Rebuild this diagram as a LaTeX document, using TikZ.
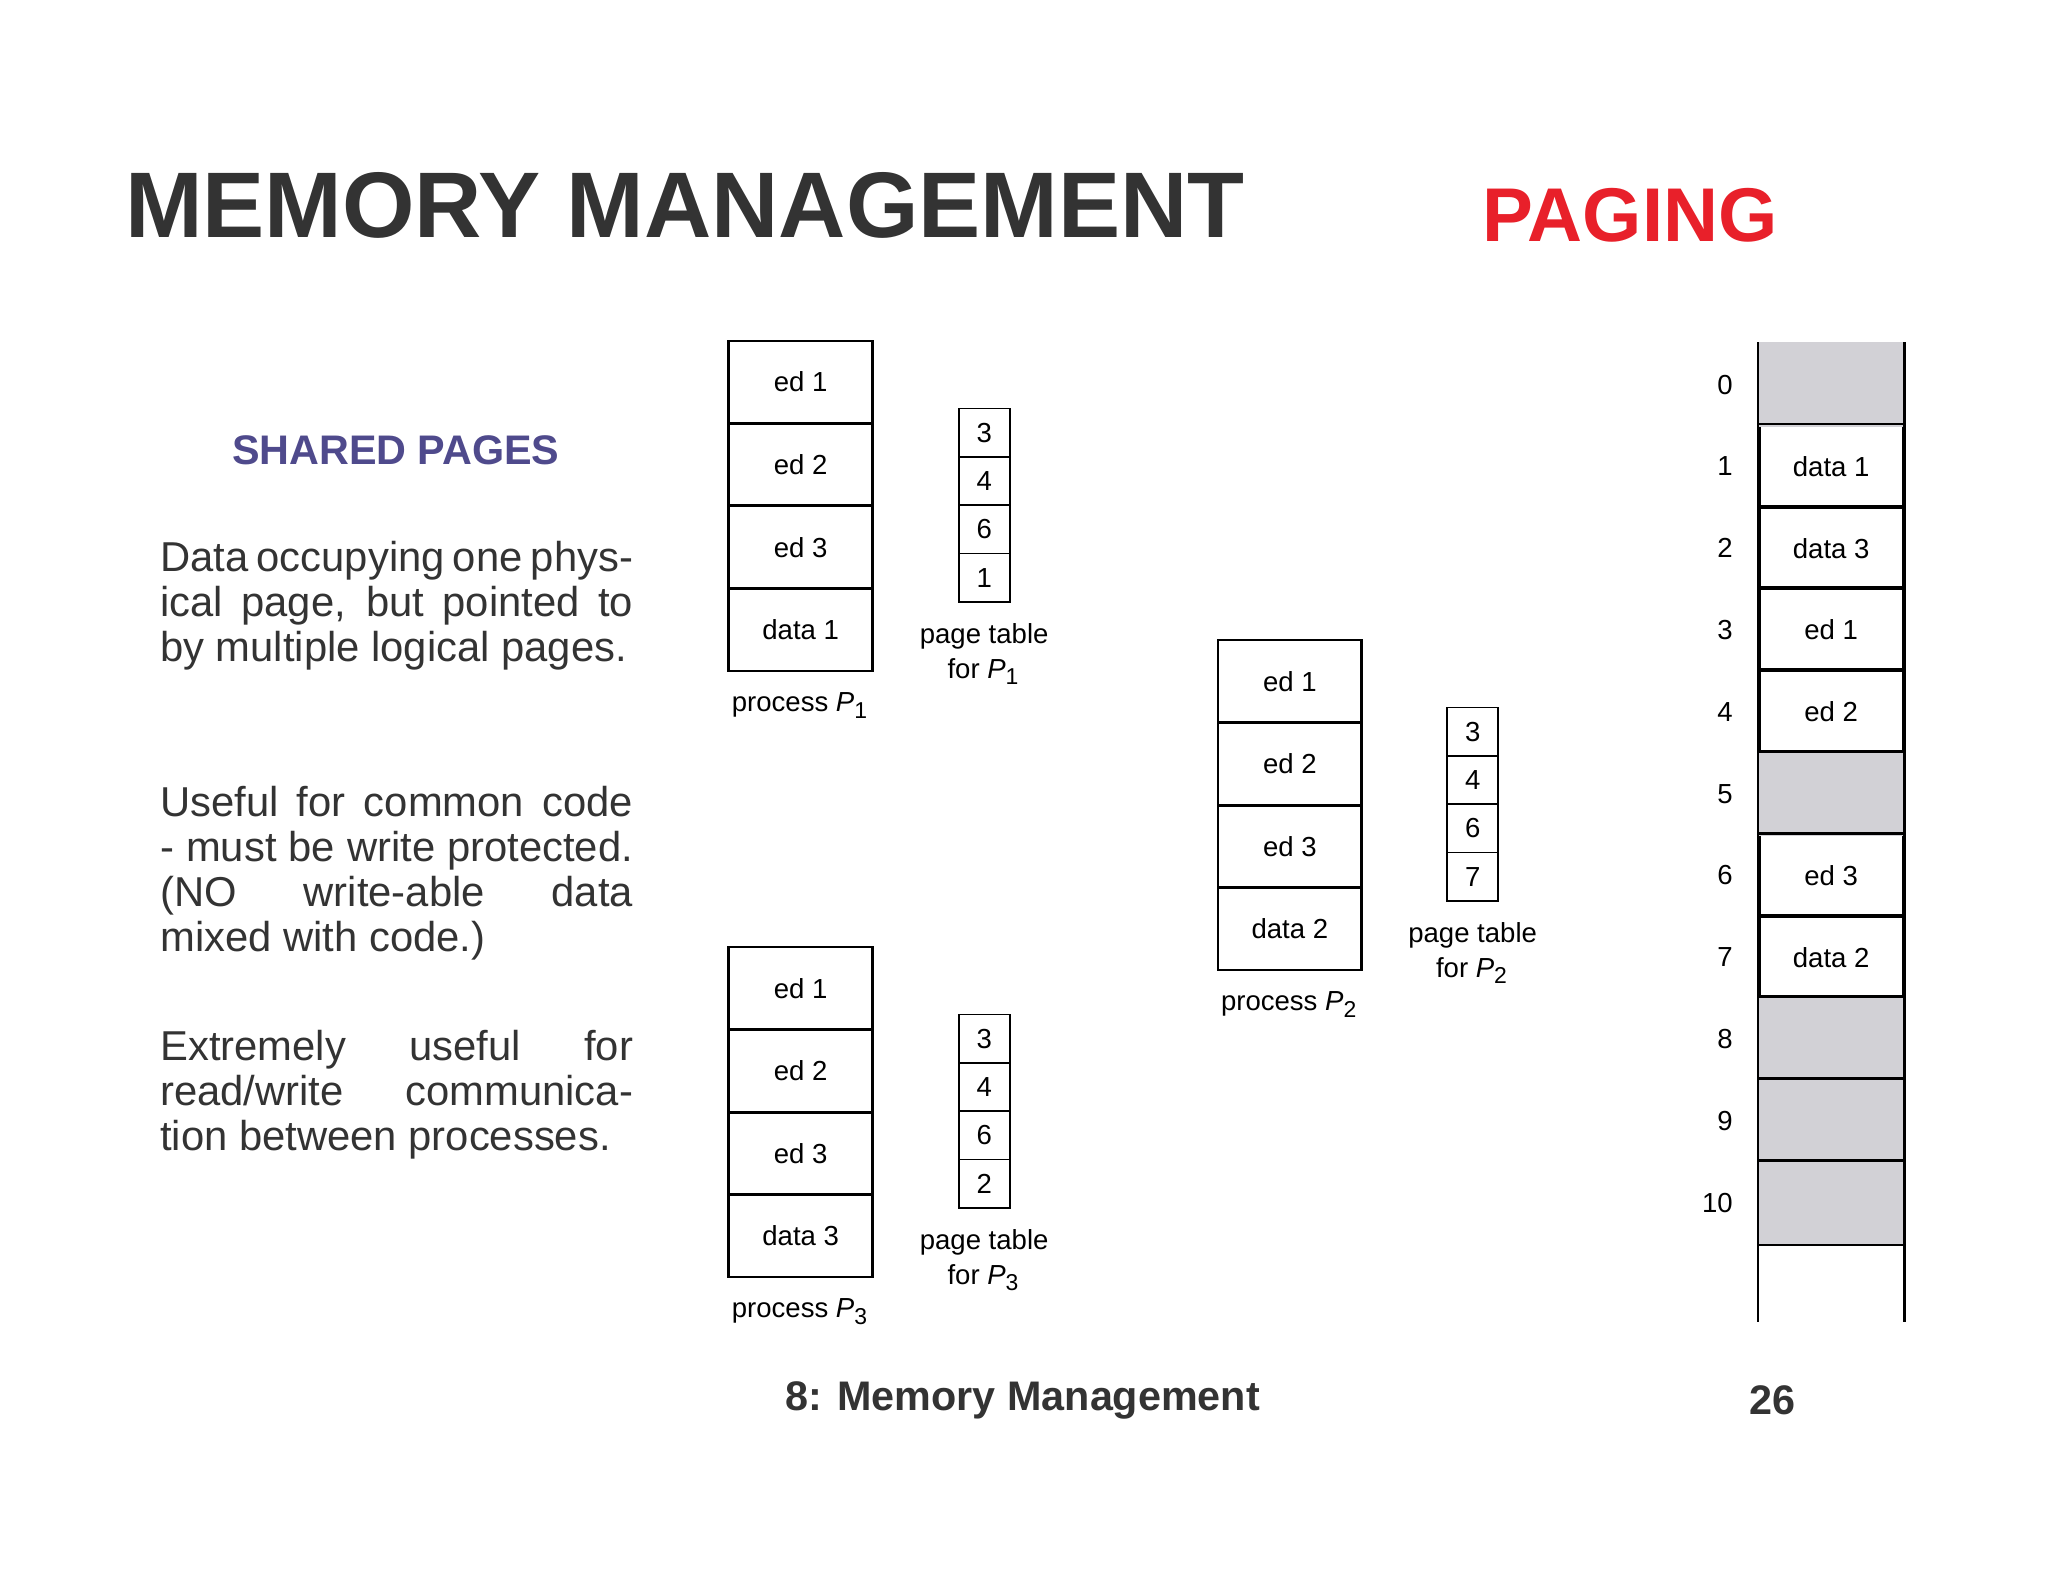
\documentclass[tikz,border=0pt]{standalone}
\usepackage{fontspec}
\setmainfont{Liberation Sans}
\usetikzlibrary{positioning, calc}
\definecolor{titlegray}{HTML}{333333}
\definecolor{sharedblue}{HTML}{4F4A8C}
\definecolor{pagered}{HTML}{E8202A}
\definecolor{framegray}{HTML}{D2D1D6}
\newcommand{\procname}[1]{\textit{P}\textsubscript{#1}}
\newcommand{\nohyph}{\hyphenpenalty=10000\exhyphenpenalty=10000\relax}
\tikzset{
    page/.style = {draw=black, semithick, minimum width=1.1cm, minimum height=0.63cm,
        inner sep=0pt, font=\fontsize{6}{7}\selectfont},
    entry/.style = {draw=black, minimum width=0.39cm, minimum height=0.37cm,
        inner sep=0pt, font=\fontsize{6}{7}\selectfont},
    caption/.style = {align=center, inner sep=0pt, font=\fontsize{6}{7.6}\selectfont},
    framenum/.style = {anchor=east, font=\fontsize{6}{7}\selectfont},
    bodytext/.style = {anchor=north west, text width=3.62cm, align=justify,
        inner sep=0pt, font=\fontsize{9.1}{9.8}\selectfont},
}
\begin{document}
\begin{tikzpicture}
    \useasboundingbox (0,0) rectangle (15.68,-12.11);
    % headings
    \node (title) [anchor=base west, inner sep=0pt, text=titlegray,
        font=\fontsize{20.3}{24}\selectfont\bfseries] at (0.95,-1.82) {MEMORY MANAGEMENT};
    \node (paging) [anchor=base, inner sep=0pt, text=pagered,
        font=\fontsize{16.6}{20}\selectfont\bfseries] at (12.48,-1.85) {PAGING};
    \node (shared) [text=sharedblue, font=\fontsize{9}{10}\selectfont\bfseries] at (3.03,-3.45) {SHARED PAGES};
    % text on the left
    \node (txta) [bodytext, text=titlegray] at (1.22,-4.14) {\nohyph Data occupying one physical page, but pointed to by multiple logical pages.};
    \node (txtb) [bodytext, text=titlegray] at (1.22,-6.01) {\nohyph Useful for common code - must be write protected. (NO write-able data mixed with code.)};
    \node (txtc) [bodytext, text=titlegray] at (1.22,-7.88) {\nohyph Extremely useful for read/write communication between processes.};
    % processes and page tables
    \foreach \p/\x/\y/\tx/\ty/\last/\fr in {1/6.13/-2.6/7.535/-3.12/data 1/1,
            3/6.13/-7.24/7.535/-7.76/data 3/2, 2/9.875/-4.89/11.275/-5.41/data 2/7} {
        \foreach \t [count=\i] in {ed 1,ed 2,ed 3,\last}
            \node (p\p-\i) [page, anchor=north] at (\x,{\y-0.632*(\i-1)}) {\t};
        \foreach \n [count=\i] in {3,4,6,\fr}
            \node (t\p-\i) [entry, anchor=north] at (\tx,{\ty-0.37*(\i-1)}) {\n};
        \node (cap\p) [caption, below=0.15cm of t\p-4] {page table\\for \procname{\p}};
        \node (proc\p) [caption, below=0.15cm of p\p-4] {process \procname{\p}};
    }
    % no top edge on the first process page
    \fill[white] ([xshift=-1pt]p1-1.north west) rectangle ([xshift=1pt,yshift=1pt]p1-1.north east);
    % physical memory
    \foreach \t [count=\i from 0] in {,data 1,data 3,ed 1,ed 2,,ed 3,data 2,,,} {
        \node (f\i) [page, minimum height=0.6265cm, anchor=north] at (14.02,{-2.62-0.6265*\i}) {\t};
        \node (n\i) [framenum] at ($(f\i.west)+(-0.07,0)$) {\i};
    }
    \foreach \i in {0,5,8,9,10}
        \fill[framegray] (f\i.south west) rectangle (f\i.north east);
    \foreach \i in {1,...,10}
        \draw[semithick] (f\i.north west) -- (f\i.north east);
    \draw[semithick] (f10.south west) -- (f10.south east);
    \coordinate (memend) at (14.02,-10.12);
    \draw[semithick] (f0.north west) -- (f0.north west |- memend)
        (f0.north east) -- (f0.north east |- memend);
    % footer
    \node (foot) [text=titlegray, font=\fontsize{9}{10}\selectfont\bfseries] at (7.83,-10.72) {8: Memory Management};
    \node (pnum) [text=titlegray, font=\fontsize{9}{10}\selectfont\bfseries] at (13.57,-10.72) {26};
\end{tikzpicture}
\end{document}
